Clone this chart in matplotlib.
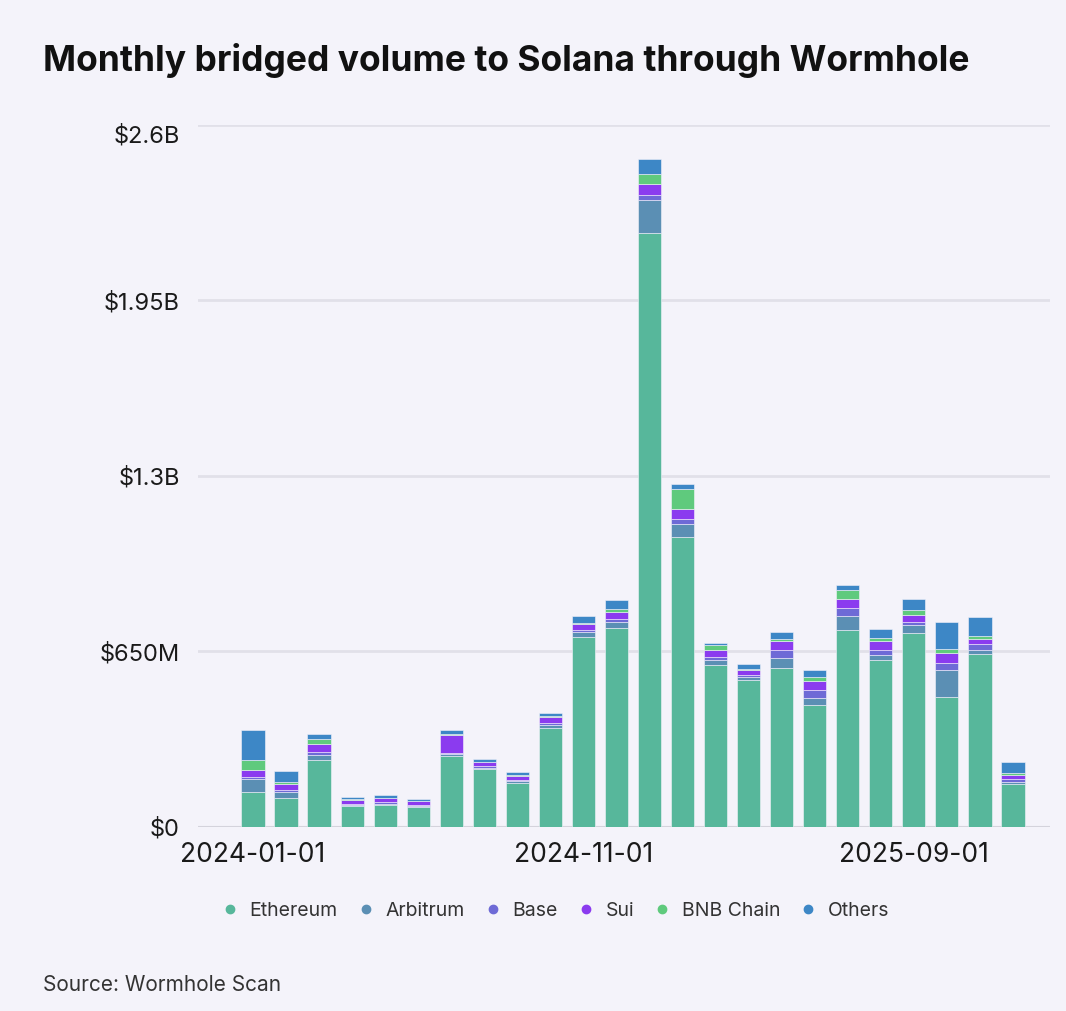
import matplotlib
matplotlib.use("Agg")
import matplotlib.pyplot as plt
import numpy as np
from matplotlib.lines import Line2D

plt.rcParams['font.family'] = ['Inter', 'DejaVu Sans']

# monthly volume in $M, 2024-01 .. 2025-12
months = ["2024-01-01", "2024-02-01", "2024-03-01", "2024-04-01", "2024-05-01", "2024-06-01",
          "2024-07-01", "2024-08-01", "2024-09-01", "2024-10-01", "2024-11-01", "2024-12-01",
          "2025-01-01", "2025-02-01", "2025-03-01", "2025-04-01", "2025-05-01", "2025-06-01",
          "2025-07-01", "2025-08-01", "2025-09-01", "2025-10-01", "2025-11-01", "2025-12-01"]
ethereum = [131, 106, 248, 78, 81, 73, 263, 214, 164, 368, 705, 736,
            2199, 1075, 600, 544, 588, 452, 730, 619, 717, 483, 641, 159]
arbitrum = [45, 22, 18, 4, 4, 4, 6, 6, 5, 8, 19, 25,
            124, 49, 19, 10, 37, 25, 52, 19, 31, 99, 15, 9]
base = [8, 10, 12, 5, 6, 6, 6, 7, 6, 8, 6, 9,
        19, 15, 10, 9, 31, 31, 28, 19, 12, 27, 22, 9]
sui = [28, 22, 31, 13, 16, 12, 66, 13, 15, 25, 21, 28,
       40, 37, 25, 18, 33, 31, 33, 31, 25, 35, 19, 16]
bnb = [37, 6, 18, 2, 2, 2, 2, 2, 2, 2, 6, 9,
       35, 74, 19, 4, 6, 16, 35, 12, 19, 15, 9, 6]
others = [111, 40, 18, 10, 8, 8, 15, 11, 10, 10, 25, 32,
          56, 22, 9, 18, 26, 25, 19, 33, 40, 99, 72, 40]

series = [("Ethereum", ethereum, "#57b79b"),
          ("Arbitrum", arbitrum, "#5b8fb4"),
          ("Base", base, "#6e6ad6"),
          ("Sui", sui, "#8b3bef"),
          ("BNB Chain", bnb, "#5fca7d"),
          ("Others", others, "#3d87c6")]

tick_vals = [0, 650, 1300, 1950, 2600]
tick_labels = ["$0", "$650M", "$1.3B", "$1.95B", "$2.6B"]
shown_months = ["2024-01-01", "2024-11-01", "2025-09-01"]

bg = "#f4f3fa"
fig = plt.figure(figsize=(10.66, 10.11), dpi=100, facecolor=bg)
ax = fig.add_axes([0.1857, 0.182, 0.7993, 0.6944], facecolor=bg)

x = np.arange(len(months))
bottom = np.zeros(len(months))
for name, vals, col in series:
    ax.bar(x, vals, width=0.7, bottom=bottom, color=col, edgecolor=bg,
           linewidth=0.4, zorder=3, label=name)
    bottom += np.array(vals)

ax.set_xlim(-1.665, 24.12)
ax.set_ylim(0, 2600)
ax.set_yticks(tick_vals)
ax.set_yticklabels(tick_labels, fontsize=17, color="#1a1a1a")
ax.yaxis.grid(True, color="#e1e0e9", linewidth=2, zorder=0)
ax.set_axisbelow(True)
ax.get_yticklabels()[-1].set_va("top")
ax.tick_params(axis="y", length=0, pad=13)

ax.set_xticks([months.index(m) for m in shown_months])
ax.set_xticklabels(shown_months, fontsize=19, color="#1a1a1a")
ax.tick_params(axis="x", length=0, pad=11)

for s in ax.spines.values():
    s.set_visible(False)
ax.axhline(0, color="#d4d3dc", linewidth=1.5, zorder=2)

handles = [Line2D([0], [0], marker="o", linestyle="", markersize=6,
                  markerfacecolor=col, markeredgecolor=col, label=name)
           for name, _, col in series]
fig.legend(handles=handles, loc="center", bbox_to_anchor=(0.516, 0.099), ncol=6,
           frameon=False, fontsize=14, handletextpad=0.0, columnspacing=0.45,
           labelcolor="#333333")

fig.text(0.040, 0.940, "Monthly bridged volume to Solana through Wormhole",
         fontsize=25.5, fontweight="bold", color="#111111", va="center")
fig.text(0.040, 0.026, "Source: Wormhole Scan", fontsize=15, color="#333333", va="center")

fig.savefig("out.png", dpi=100, facecolor=bg)
